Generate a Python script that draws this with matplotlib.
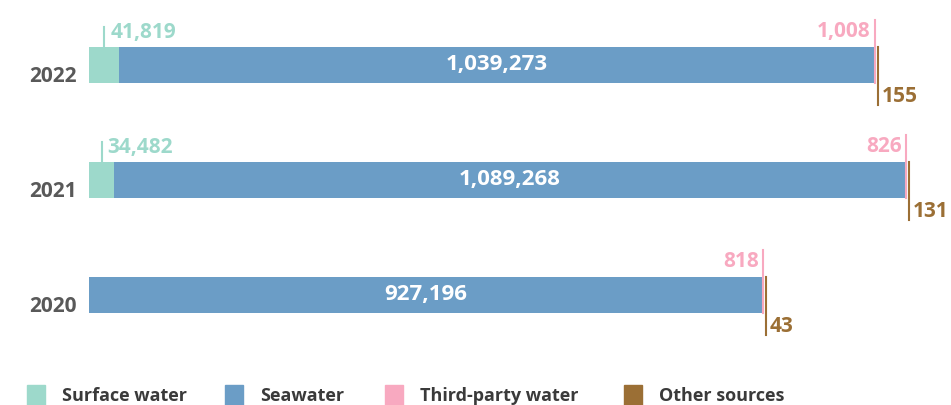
import matplotlib
matplotlib.use('Agg')
import matplotlib.pyplot as plt
import matplotlib.transforms as mtransforms
from matplotlib.patches import Rectangle
import numpy as np

plt.rcParams['font.family'] = ['Open Sans', 'DejaVu Sans']

# Water withdrawal by source (megalitres)
years = ['2022', '2021', '2020']
surface = [41819, 34482, 0]
seawater = [1039273, 1089268, 927196]
third_party = [1008, 826, 818]
other = [155, 131, 43]

series_names = ['Surface water', 'Seawater', 'Third-party water', 'Other sources']
colors = ['#9dd9cb', '#6b9dc6', '#f8a9c0', '#9b6f35']
year_color = '#595959'

W, H = 951, 405
fig = plt.figure(figsize=(W / 100, H / 100), dpi=100)
ax = fig.add_axes([89 / W, 0, 1 - 89 / W, 1])

y = np.arange(len(years))
bar_h = 0.31
left = np.zeros(len(years))
for vals, c in zip([surface, seawater, third_party, other], colors):
    ax.barh(y, vals, left=left, height=bar_h, color=c, linewidth=0)
    left += np.array(vals)

ax.set_xlim(0, 1185700)
ax.set_ylim(2.957, -0.565)
ax.set_yticks(y)
ax.set_yticklabels(years, fontsize=15, fontweight='bold', color=year_color)
ax.tick_params(axis='y', length=0, pad=9)
# year labels sit a little below the bar centre
for t in ax.get_yticklabels():
    t.set_transform(t.get_transform() +
                    mtransforms.ScaledTranslation(0, -0.09, fig.dpi_scale_trans))
ax.set_xticks([])
for s in ax.spines.values():
    s.set_visible(False)

def shifted(dx_px):
    return ax.transData + mtransforms.ScaledTranslation(dx_px / 100, 0, fig.dpi_scale_trans)

px = 1 / 115  # data units per pixel on the y axis
lbl = dict(fontsize=15, fontweight='bold')

for i in range(len(years)):
    top = y[i] - bar_h / 2
    bot = y[i] + bar_h / 2
    sea_mid = surface[i] + seawater[i] / 2
    ax.text(sea_mid, y[i], f'{seawater[i]:,}', ha='center', va='center',
            color='white', fontsize=16, fontweight='bold')

    if surface[i] > 0:
        xs = surface[i] / 2
        ax.plot([xs, xs], [top, top - 20 * px], color=colors[0], lw=1.5)
        ax.text(xs, top - 15 * px, f'{surface[i]:,}', ha='left', va='center',
                color=colors[0], transform=shifted(6), **lbl)

    x_tp = surface[i] + seawater[i] + third_party[i]
    ax.plot([x_tp, x_tp], [bot, top - 27 * px], color=colors[2], lw=1.5,
            transform=shifted(-0.5))
    ax.text(x_tp, top - 16 * px, f'{third_party[i]:,}', ha='right', va='center',
            color=colors[2], transform=shifted(-5), **lbl)

    x_ot = x_tp + other[i]
    ax.plot([x_ot, x_ot], [top, bot + 22 * px], color=colors[3], lw=1.5,
            transform=shifted(2))
    ax.text(x_ot, bot + 14 * px, f'{other[i]:,}', ha='left', va='center',
            color=colors[3], transform=shifted(6), **lbl)

# Legend along the bottom edge
legend_x = [27, 225, 385, 624]
for name, c, lx in zip(series_names, colors, legend_x):
    fig.patches.append(Rectangle((lx / W, -0.02), 18 / W, 28 / H, color=c,
                                 transform=fig.transFigure, figure=fig))
    fig.text((lx + 35) / W, 4 / H, name, ha='left', va='baseline',
             fontsize=13, fontweight='bold', color='#3a3a3a')

fig.savefig('out.png', dpi=100)
